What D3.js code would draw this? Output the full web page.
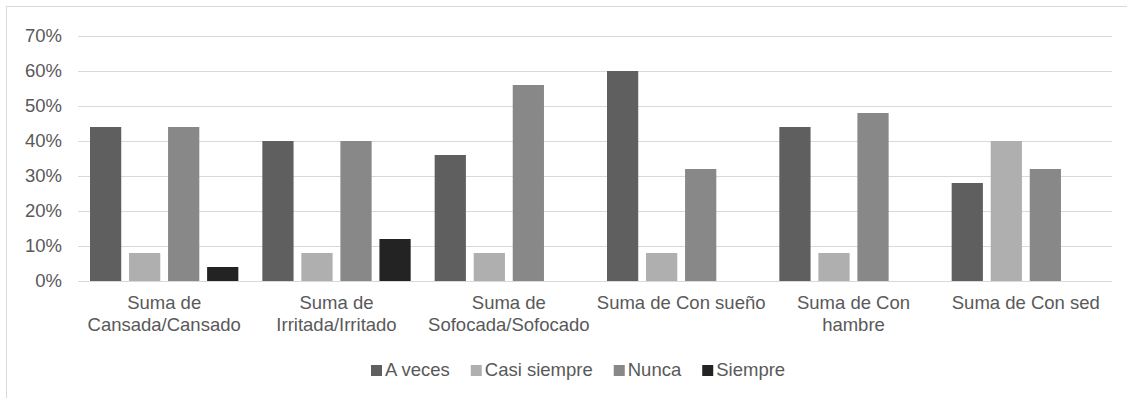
<!DOCTYPE html>
<html>
<head>
<meta charset="utf-8">
<script src="https://cdn.jsdelivr.net/npm/d3@7"></script>
<style>
  html, body { margin: 0; padding: 0; background: #fff; }
  svg { display: block; }
  text { font-family: "Liberation Sans", Arial, sans-serif; fill: #595959; }
</style>
</head>
<body>
<svg id="chart" width="1127" height="398"></svg>
<script>
// Category labels (line breaks as shown under the axis)
const categories = [
  "Suma de\nCansada/Cansado",
  "Suma de\nIrritada/Irritado",
  "Suma de\nSofocada/Sofocado",
  "Suma de Con sueño",
  "Suma de Con\nhambre",
  "Suma de Con sed"
];
const seriesNames = ["A veces", "Casi siempre", "Nunca", "Siempre"];
const seriesColors = ["#5f5f5f", "#afafaf", "#888888", "#232323"];

// Share of responses per category, one array per series
const aVeces      = [0.44, 0.40, 0.36, 0.60, 0.44, 0.28];
const casiSiempre = [0.08, 0.08, 0.08, 0.08, 0.08, 0.40];
const nunca       = [0.44, 0.40, 0.56, 0.32, 0.48, 0.32];
const siempre     = [0.04, 0.12, 0,    0,    0,    0   ];
const seriesValues = [aVeces, casiSiempre, nunca, siempre];

const yTicks = [0, 0.1, 0.2, 0.3, 0.4, 0.5, 0.6, 0.7];

const svg = d3.select("#chart");
const fontSize = 18.5;

// Outer chart frame
svg.append("rect")
  .attr("x", 6.5).attr("y", 6.5)
  .attr("width", 1140).attr("height", 420)
  .attr("fill", "none").attr("stroke", "#d9d9d9").attr("stroke-width", 1);

const plot = { left: 78, right: 1112, top: 36, bottom: 281 };

const x0 = d3.scaleBand()
  .domain(d3.range(categories.length))
  .range([plot.left, plot.right])
  .padding(0);

const x1 = d3.scaleBand()
  .domain(d3.range(seriesNames.length))
  .range([12, x0.bandwidth() - 12])
  .paddingInner(0.2)
  .paddingOuter(0);

const y = d3.scaleLinear().domain([0, 0.7]).range([plot.bottom, plot.top]);

// Horizontal gridlines and y tick labels
const yAxis = d3.axisLeft(y)
  .tickValues(yTicks)
  .tickFormat(d3.format(".0%"))
  .tickSize(-(plot.right - plot.left))
  .tickPadding(16);

const gy = svg.append("g")
  .attr("transform", `translate(${plot.left},0)`)
  .call(yAxis);
gy.select(".domain").remove();
gy.selectAll(".tick line").attr("stroke", "#d9d9d9").attr("stroke-width", 1);
gy.selectAll(".tick text")
  .attr("font-size", fontSize)
  .attr("font-family", "Liberation Sans, Arial, sans-serif")
  .attr("fill", "#595959");

// Bars
const groups = svg.append("g").selectAll("g")
  .data(categories.map((c, i) => i))
  .join("g")
  .attr("transform", i => `translate(${x0(i)},0)`);

groups.selectAll("rect")
  .data(i => seriesValues.map((vals, s) => ({ s, v: vals[i] })))
  .join("rect")
  .attr("x", d => x1(d.s))
  .attr("width", x1.bandwidth())
  .attr("y", d => y(d.v))
  .attr("height", d => y(0) - y(d.v))
  .attr("fill", d => seriesColors[d.s]);

// Baseline axis line
svg.append("line")
  .attr("x1", plot.left).attr("x2", plot.right)
  .attr("y1", y(0) + 0.5).attr("y2", y(0) + 0.5)
  .attr("stroke", "#d9d9d9").attr("stroke-width", 1);

// Category labels
const lineHeight = 22;
svg.append("g").selectAll("text")
  .data(categories.map((c, i) => ({ c, i })))
  .join("text")
  .attr("text-anchor", "middle")
  .attr("font-size", fontSize)
  .each(function(d) {
    const t = d3.select(this);
    d.c.split("\n").forEach((line, k) => {
      t.append("tspan")
        .attr("x", x0(d.i) + x0.bandwidth() / 2)
        .attr("y", 309 + k * lineHeight)
        .text(line);
    });
  });

// Legend
const legend = svg.append("g");
let lx = 371;
seriesNames.forEach((name, s) => {
  legend.append("rect")
    .attr("x", lx).attr("y", 365)
    .attr("width", 11).attr("height", 11)
    .attr("fill", seriesColors[s]);
  const t = legend.append("text")
    .attr("x", lx + 14).attr("y", 376)
    .attr("font-size", fontSize)
    .text(name);
  lx += 14 + t.node().getComputedTextLength() + 21;
});
</script>
</body>
</html>
